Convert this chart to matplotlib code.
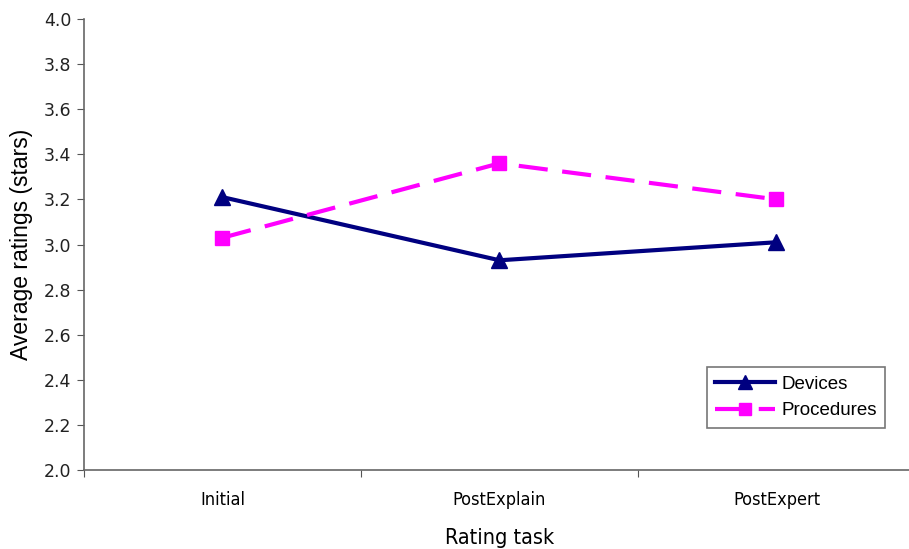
import matplotlib
matplotlib.use("Agg")
import matplotlib.pyplot as plt

categories = ["Initial", "PostExplain", "PostExpert"]
devices = [3.21, 2.93, 3.01]
procedures = [3.03, 3.36, 3.20]
yticks = [2.0, 2.2, 2.4, 2.6, 2.8, 3.0, 3.2, 3.4, 3.6, 3.8, 4.0]

W, H = 909, 549
fig = plt.figure(figsize=(W / 100, H / 100), dpi=100)
ax = fig.add_axes([84 / W, (H - 470) / H, (915 - 84) / W, (470 - 19) / H])

x = list(range(len(categories)))
ax.plot(x, devices, color="#000080", lw=3, marker="^", ms=11, label="Devices", zorder=3)
ax.plot(x, procedures, color="#FF00FF", lw=3, ls=(0, (7, 3.5)), marker="s", ms=10,
        label="Procedures", zorder=3)

ax.set_xlim(-0.5, 2.5)
ax.set_ylim(2.0, 4.0)
ax.set_yticks(yticks)
ax.set_yticklabels([f"{v:.1f}" for v in yticks], fontsize=12.5, family="DejaVu Sans", color="#222222")
ax.set_xticks([-0.5, 0.5, 1.5, 2.5])
ax.set_xticklabels([])
ax.set_xticks(x, minor=True)
ax.set_xticklabels(categories, minor=True, fontsize=13, family="DejaVu Sans", stretch="condensed")
ax.tick_params(axis="x", which="minor", length=0, pad=15)
ax.tick_params(axis="x", which="major", length=5, color="#555555")
ax.tick_params(axis="y", length=5, color="#555555", pad=4)

for s in ["top", "right"]:
    ax.spines[s].set_visible(False)
for s in ["left", "bottom"]:
    ax.spines[s].set_color("#666666")
    ax.spines[s].set_linewidth(1.2)

ax.set_ylabel("Average ratings (stars)", fontsize=16.5, family="Liberation Sans", labelpad=8)
ax.set_xlabel("Rating task", fontsize=15.5, family="DejaVu Sans", stretch="condensed", labelpad=14)

leg = ax.legend(loc="upper left", bbox_to_anchor=((707 - 84) / (915 - 84), (470 - 367) / (470 - 19)),
                frameon=True, fancybox=False, edgecolor="#555555",
                prop={"family": "Liberation Sans", "size": 13.5}, handlelength=3.2,
                borderpad=0.45, labelspacing=0.5, handletextpad=0.3, borderaxespad=0,
                markerscale=0.9)
leg.get_frame().set_linewidth(1.2)

fig.savefig("out.png", dpi=100)
